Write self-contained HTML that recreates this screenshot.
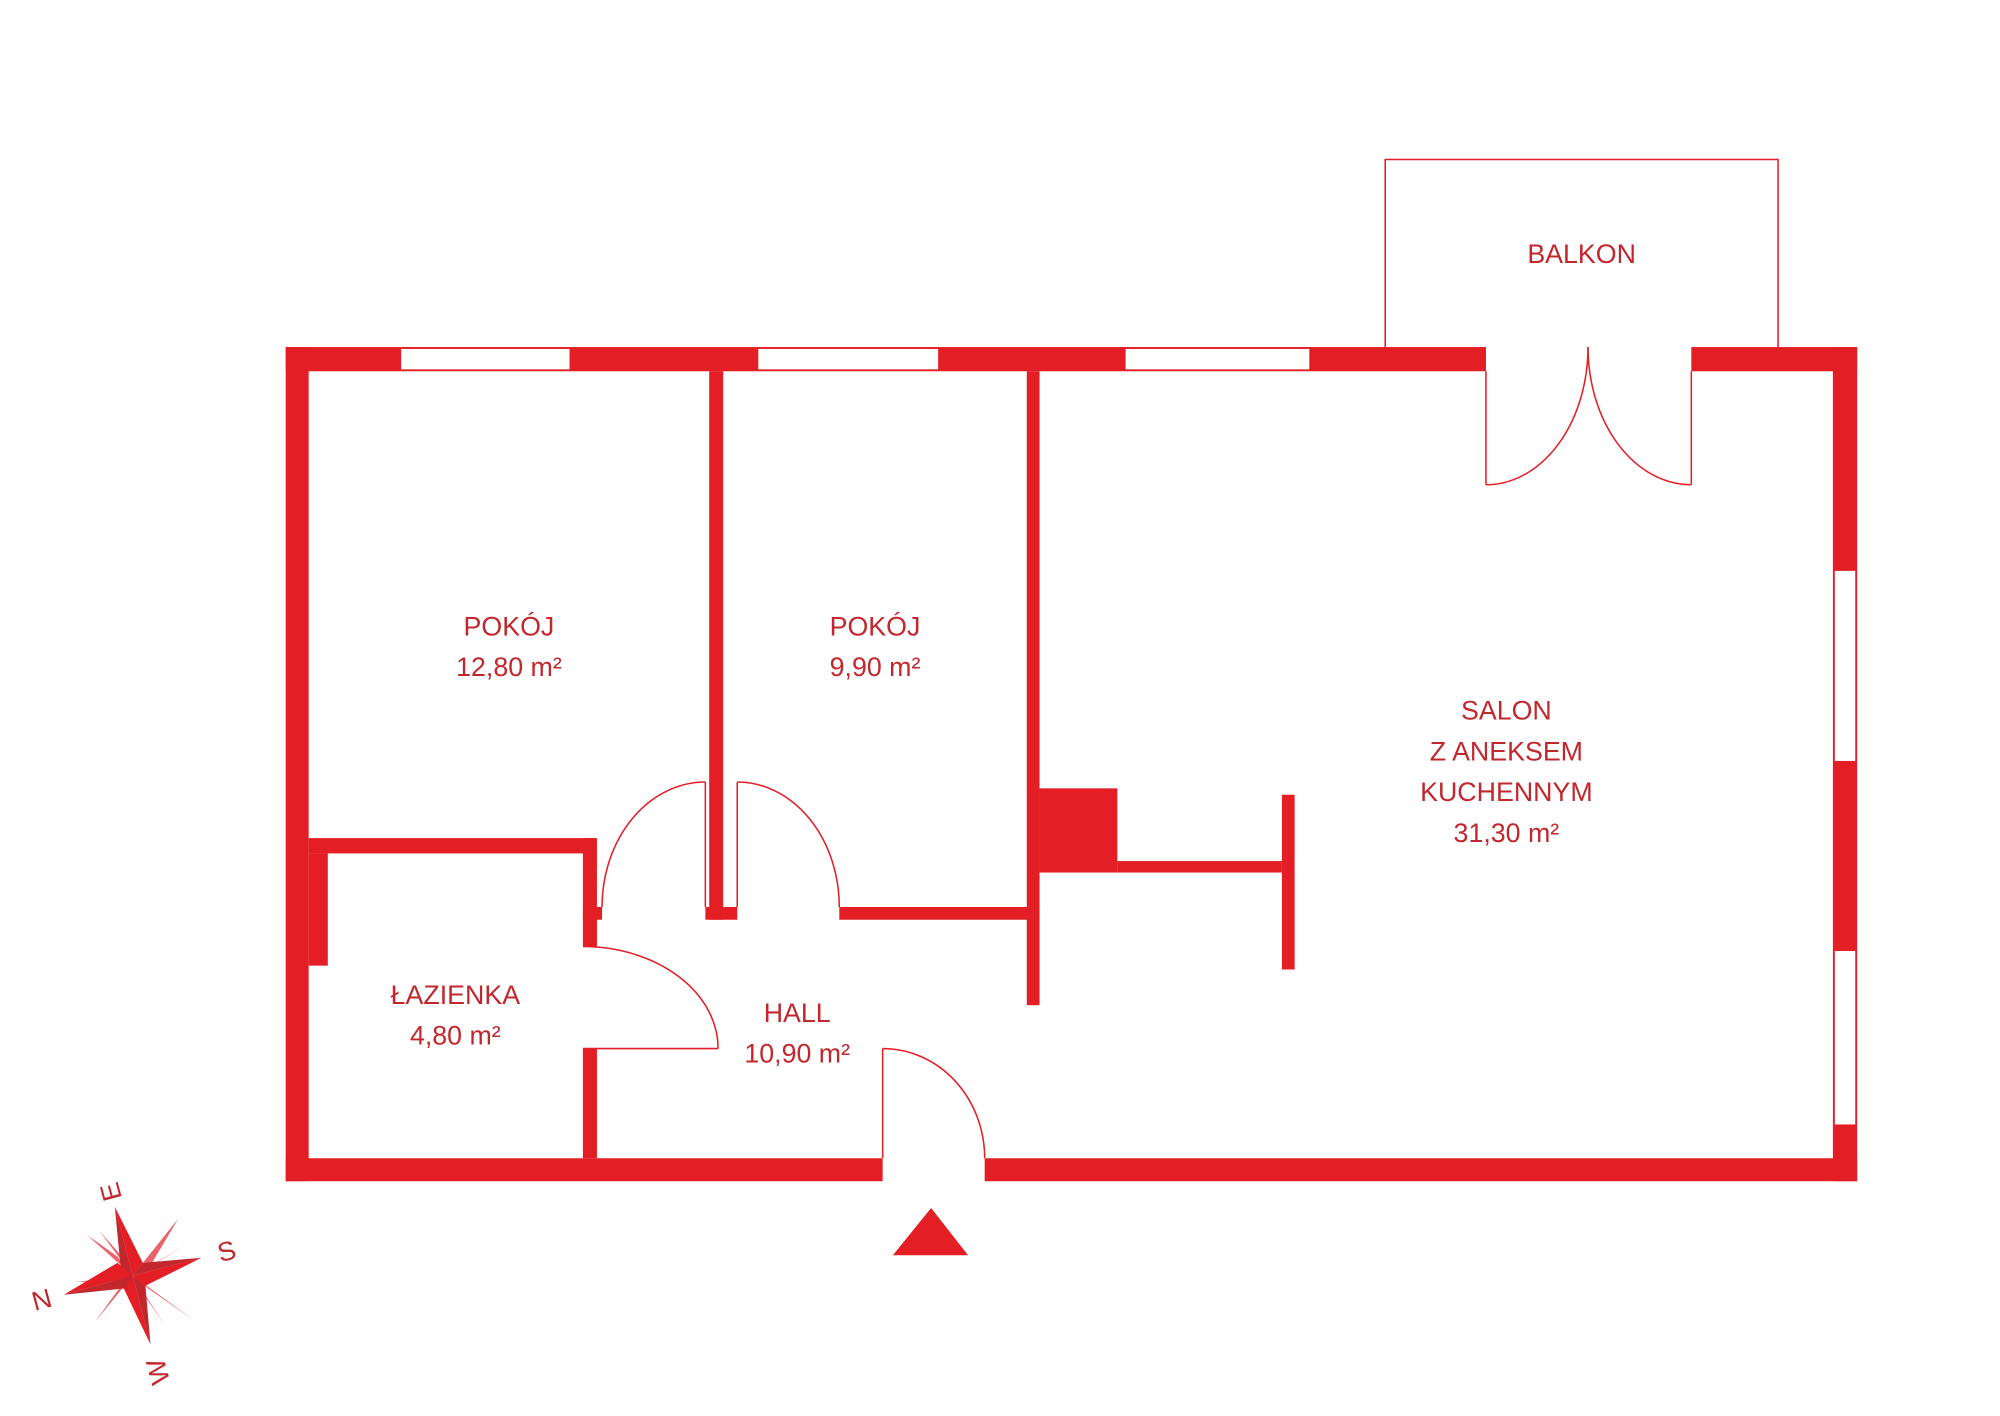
<!DOCTYPE html>
<html><head><meta charset="utf-8"><style>
html,body{margin:0;padding:0;background:#fff;width:2000px;height:1416px;overflow:hidden}
svg{display:block}
text{font-family:"Liberation Sans",sans-serif;fill:#c1272d;font-size:21px;text-anchor:middle}
</style></head><body>
<svg width="2000" height="1416" viewBox="0 0 1568 1110" xmlns="http://www.w3.org/2000/svg">
<g fill="#e31e24">
<rect x="224" y="272" width="941" height="19"/>
<rect x="1326" y="272" width="130" height="19"/>
<rect x="224" y="272" width="18" height="654"/>
<rect x="224" y="908" width="468" height="18"/>
<rect x="772" y="908" width="684" height="18"/>
<rect x="1437" y="272" width="19" height="654"/>
<rect x="556" y="291" width="11" height="430"/>
<rect x="553" y="711" width="25" height="10"/>
<rect x="658" y="711" width="152" height="10"/>
<rect x="805" y="291" width="10" height="497"/>
<rect x="242" y="657" width="224" height="12"/>
<rect x="457" y="657" width="11" height="85"/>
<rect x="457" y="711" width="15" height="10"/>
<rect x="457" y="822" width="11" height="86"/>
<rect x="242" y="669" width="15" height="88"/>
<rect x="815" y="618" width="61" height="66"/>
<rect x="876" y="675" width="129" height="9"/>
<rect x="1005" y="623" width="10" height="137"/>
<polygon points="700,984 759,984 730,947"/>
</g>
<g fill="#fff" stroke="#e31e24" stroke-width="1">
<rect x="314" y="273" width="133" height="17"/>
<rect x="594" y="273" width="142" height="17"/>
<rect x="882" y="273" width="145" height="17"/>
<rect x="1438" y="447" width="17" height="150"/>
<rect x="1438" y="745" width="17" height="137"/>
</g>
<g fill="none" stroke="#e31e24" stroke-width="1.2">
<polyline points="1086,272 1086,125 1394,125 1394,272"/>
<line x1="1165" y1="291" x2="1165" y2="380"/>
<path d="M1165,380 A80,108 0 0 0 1245,272"/>
<line x1="1326" y1="291" x2="1326" y2="380"/>
<path d="M1326,380 A81,108 0 0 1 1245,272"/>
<line x1="553" y1="613" x2="553" y2="711"/>
<path d="M553,613 A81,98 0 0 0 472,711"/>
<line x1="578" y1="613" x2="578" y2="711"/>
<path d="M578,613 A80,98 0 0 1 658,711"/>
<path d="M457,742 A106,80 0 0 1 563,822"/>
<line x1="457" y1="822" x2="563" y2="822"/>
<line x1="692" y1="822" x2="692" y2="908"/>
<path d="M692,822 A80,86 0 0 1 772,908"/>
</g>
<text x="1240" y="206">BALKON</text>
<text x="399" y="498">POKÓJ</text>
<text x="399" y="530">12,80 m²</text>
<text x="686" y="498">POKÓJ</text>
<text x="686" y="530">9,90 m²</text>
<text x="1181" y="564">SALON</text>
<text x="1181" y="596">Z ANEKSEM</text>
<text x="1181" y="628">KUCHENNYM</text>
<text x="1181" y="660">31,30 m²</text>
<text x="357" y="787">ŁAZIENKA</text>
<text x="357" y="819">4,80 m²</text>
<text x="625" y="801">HALL</text>
<text x="625" y="833">10,90 m²</text>
<g>
<polygon fill="#e8636a" points="104,1000 68,968 92,985"/>
<polygon fill="#e8636a" points="104,1000 140,955 118,992"/>
<polygon fill="#e8636a" points="104,1000 152,1035 116,1010"/>
<polygon fill="#e8636a" points="104,1000 74,1037 92,1012"/>
<polygon fill="#e8636a" points="104,1000 78,965 100,990"/>
<polygon fill="#e8636a" points="104,1000 148,975 112,996"/>
<polygon fill="#e8636a" points="104,1000 130,1040 108,1008"/>
<polygon fill="#e8636a" points="104,1000 58,1005 96,1004"/>
<polygon fill="#e31e24" points="90,946 104,1000 112,990"/>
<polygon fill="#c1272d" points="90,946 104,1000 96,1008"/>
<polygon fill="#e31e24" points="158,986 104,1000 114,1008"/>
<polygon fill="#c1272d" points="158,986 104,1000 112,990"/>
<polygon fill="#e31e24" points="118,1054 104,1000 96,1008"/>
<polygon fill="#c1272d" points="118,1054 104,1000 114,1008"/>
<polygon fill="#e31e24" points="50,1015 104,1000 92,990"/>
<polygon fill="#c1272d" points="50,1015 104,1000 98,1010"/>
</g>
<text x="88" y="940" font-size="16" transform="rotate(-105 88 934)">E</text>
<text x="178" y="988" font-size="16" transform="rotate(-15 178 982)">S</text>
<text x="33" y="1026" font-size="16" transform="rotate(-15 33 1020)">N</text>
<text x="125" y="1081" font-size="16" transform="rotate(-105 125 1075)">W</text>
</svg>
</body></html>
